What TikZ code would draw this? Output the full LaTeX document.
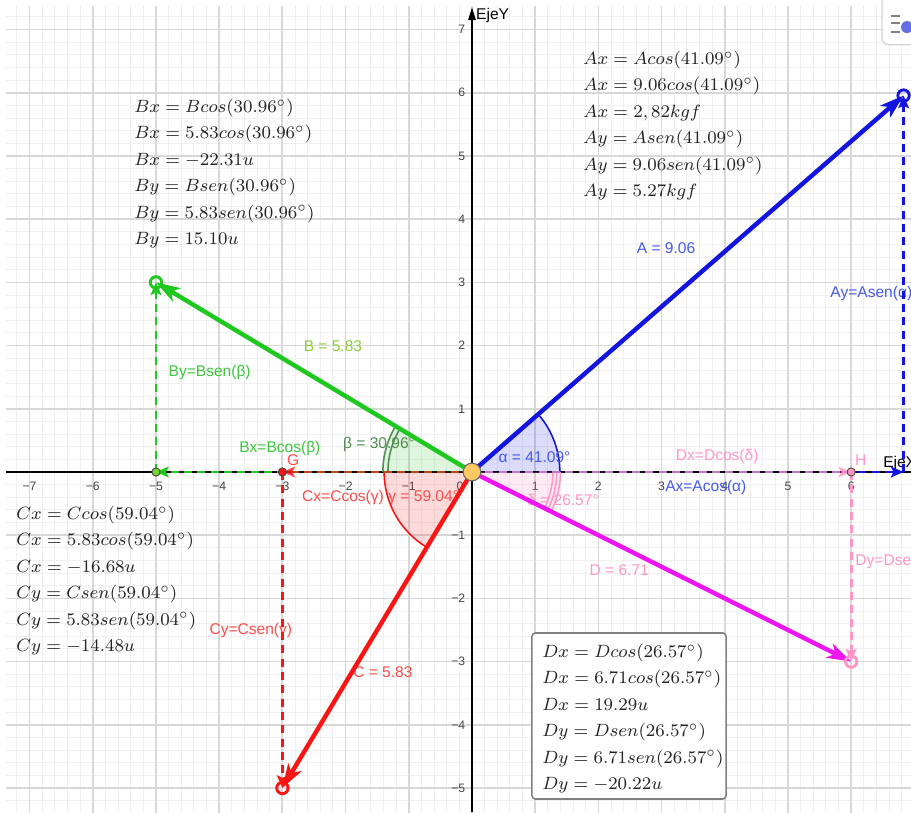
\documentclass[tikz,border=0pt]{standalone}
\usepackage{fontspec}
\newfontfamily\lab{Liberation Sans}
\usetikzlibrary{arrows.meta}
\definecolor{gmajor}{RGB}{216,216,216}
\definecolor{gminor}{RGB}{240,240,240}
\definecolor{vA}{RGB}{20,20,225}
\definecolor{vB}{RGB}{30,200,30}
\definecolor{vC}{RGB}{250,20,20}
\definecolor{vD}{RGB}{240,20,240}
\definecolor{pD}{RGB}{255,150,200}
\definecolor{lA}{RGB}{70,90,240}
\definecolor{lB}{RGB}{60,200,60}
\definecolor{lBtwo}{RGB}{140,205,60}
\definecolor{lBeta}{RGB}{80,140,80}
\definecolor{lC}{RGB}{255,75,75}
\definecolor{lD}{RGB}{255,150,200}
\definecolor{orig}{RGB}{255,200,100}
\definecolor{txt}{RGB}{35,35,35}
\definecolor{dotline}{RGB}{70,70,70}
\definecolor{iconc}{RGB}{100,110,230}
\begin{document}
\begin{tikzpicture}[x=1cm,y=1cm,
  lbl/.style={font=\lab\fontsize{7}{8}\selectfont, inner sep=0pt},
  tick/.style={font=\lab\fontsize{5.5}{6}\selectfont, text=dotline, inner sep=0pt},
  mathblk/.style={anchor=north west, align=left, inner sep=0pt, text=txt, font=\fontsize{8.2}{11.9}\selectfont},
  vec/.style={line width=2pt, -{Stealth[length=0.38cm,width=0.24cm,inset=0.1cm]}},
  comp/.style={line width=1.2pt, dash pattern=on 3.6pt off 2.4pt, -{Stealth[length=0.2cm,width=0.17cm,inset=0.04cm]}},
  hollowpt/.style={circle, minimum size=0.18cm, inner sep=0pt, line width=1.3pt, fill=none},
  smalldot/.style={circle, minimum size=0.13cm, inner sep=0pt, draw=dotline, line width=0.4pt},
  sector/.style={fill opacity=0.15},
  anglearc/.style={line width=0.7pt}
]
% page
\fill[white] (-7.468,-5.380) rectangle (6.946,7.468);
\useasboundingbox (-7.468,-5.380) rectangle (6.946,7.468);
% grid
\begin{scope}
\clip (-7.373,-5.380) rectangle (6.946,7.358);
\draw[gminor, line width=0.45pt, step=0.2] (-7.6,-5.6) grid (7.2,7.6);
\draw[gmajor, line width=0.8pt, step=1] (-8,-6) grid (7,8);
\end{scope}
% named coordinates
\coordinate (O) at (0,0);
\coordinate (A) at (6.829,5.956);
\coordinate (B) at (-5,3);
\coordinate (C) at (-3,-5);
\coordinate (D) at (6,-3);
\coordinate (Ax) at (6.829,0);
\coordinate (Bx) at (-5,0);
\coordinate (Cx) at (-3,0);
\coordinate (Dx) at (6,0);
\coordinate (xl) at (-7.373,0);
\coordinate (xr) at (6.946,0);
\coordinate (yb) at (0,-5.38);
\coordinate (yt) at (0,7.35);
% axes
\draw[black, line width=0.6pt] (xl) -- (xr);
\draw[black, line width=0.6pt, -{Triangle[length=0.2cm,width=0.12cm]}] (yb) -- (yt);
% tick labels
\foreach \v/\t in {-7/−7,-6/−6,-5/−5,-4/−4,-3/−3,-2/−2,-1/−1,1/1,2/2,3/3,4/4,5/5,6/6}
  \node[tick] (xt\v) at (\v,-0.23) {\t};
\node[tick] (xt0) at (-0.19,-0.23) {0};
\foreach \v/\t in {7/7,6/6,5/5,4/4,3/3,2/2,1/1,-1/−1,-2/−2,-3/−3,-4/−4,-5/−5}
  \node[tick, anchor=east] (yt\v) at (-0.1,\v) {\t};
% angle sectors
\fill[vA, sector] (O) -- (0:1.39) arc[start angle=0, end angle=41.09, radius=1.39] -- cycle;
\draw[vA, anglearc] (0:1.39) arc[start angle=0, end angle=41.09, radius=1.39];
\fill[vB, sector] (O) -- (149.04:1.41) arc[start angle=149.04, end angle=180, radius=1.41] -- cycle;
\draw[lBeta, anglearc] (149.04:1.41) arc[start angle=149.04, end angle=180, radius=1.41];
\draw[lBeta, anglearc] (149.04:1.33) arc[start angle=149.04, end angle=180, radius=1.33];
\fill[vC, sector] (O) -- (180:1.39) arc[start angle=180, end angle=239.04, radius=1.39] -- cycle;
\draw[vC, anglearc] (180:1.39) arc[start angle=180, end angle=239.04, radius=1.39];
\fill[pD, fill opacity=0.2] (O) -- (-26.57:1.40) arc[start angle=-26.57, end angle=0, radius=1.40] -- cycle;
\foreach \r in {1.40,1.34,1.28}
  \draw[pD, anglearc] (-26.57:\r) arc[start angle=-26.57, end angle=0, radius=\r];
% labels
\node[lbl, text=lA] (labA) at (3.07,3.54) {A = 9.06};
\node[lbl, text=lA, anchor=west] (labAy) at (5.665,2.83) {Ay=Asen(α)};
\node[lbl, text=lBtwo] (labB) at (-2.2,1.99) {B = 5.83};
\node[lbl, text=lB] (labBy) at (-4.15,1.57) {By=Bsen(β)};
\node[lbl, text=lB] (labBx) at (-3.04,0.38) {Bx=Bcos(β)};
\node[lbl, text=lBeta] (labbeta) at (-1.47,0.43) {β = 30.96°};
\node[lbl, text=lC] (labG) at (-2.83,0.19) {G};
\node[lbl, text=lC] (labCx) at (-2.04,-0.40) {Cx=Ccos(γ)};
\node[lbl, text=lC, anchor=west] (labgamma) at (-1.33,-0.40) {γ = 59.04°};
\node[lbl, text=lC] (labCy) at (-3.50,-2.50) {Cy=Csen(γ)};
\node[lbl, text=lC] (labC) at (-1.41,-3.16) {C = 5.83};
\node[lbl, text=lA] (labalpha) at (0.99,0.24) {α = 41.09°};
\node[lbl, text=lD] (labDx) at (3.88,0.25) {Dx=Dcos(δ)};
\node[lbl, text=lD] (labH) at (6.15,0.19) {H};
\node[lbl, text=lA] (labAx) at (3.70,-0.25) {Ax=Acos(α)};
\node[lbl, text=lD] (labdelta) at (1.44,-0.44) {δ = 26.57°};
\node[lbl, text=lD] (labD) at (2.33,-1.55) {D = 6.71};
\node[lbl, text=lD, anchor=west] (labDy) at (6.06,-1.42) {Dy=Dsen(δ)};
\node[lbl, text=black, anchor=west] (EjeY) at (0.06,7.23) {EjeY};
\node[lbl, text=black, anchor=west] (EjeX) at (6.50,0.14) {EjeX};
% components
\draw[comp, vA] (O) -- (Ax);
\draw[comp, vA] (Ax) -- (A);
\draw[comp, pD, opacity=0.75] (O) -- (Dx);
\draw[comp, pD] (Dx) -- (D);
\draw[comp, vB] (O) -- (Bx);
\draw[comp, vB] (Bx) -- (B);
\draw[comp, vC, opacity=0.7] (O) -- (Cx);
\draw[comp, vC] (Cx) -- (C);
% vectors
\draw[vec, vA] (O) -- (A);
\draw[vec, vB] (O) -- (B);
\draw[vec, vC] (O) -- (C);
\draw[vec, vD] (O) -- (D);
% points
\node[hollowpt, draw=vA] (pA) at (A) {};
\node[hollowpt, draw=vB] (pB) at (B) {};
\node[hollowpt, draw=vC] (pC) at (C) {};
\node[hollowpt, draw=pD] (pD) at (D) {};
\node[smalldot, fill=lBtwo!80!green] (pBx) at (Bx) {};
\node[smalldot, fill=vC] (pG) at (Cx) {};
\node[smalldot, fill=pD] (pH) at (Dx) {};
\node[circle, minimum size=0.28cm, inner sep=0pt, fill=orig, draw=dotline!80, line width=0.5pt] (pO) at (O) {};
% formula blocks
\node[mathblk] (blkA) at (1.756,6.667) {$Ax = Acos(41.09^\circ)$\\ $Ax = 9.06cos(41.09^\circ)$\\ $Ax = 2,82kgf$\\ $Ay = Asen(41.09^\circ)$\\ $Ay = 9.06sen(41.09^\circ)$\\ $Ay = 5.27kgf$};
\node[mathblk] (blkB) at (-5.35,5.907) {$Bx = Bcos(30.96^\circ)$\\ $Bx = 5.83cos(30.96^\circ)$\\ $Bx = -22.31u$\\ $By = Bsen(30.96^\circ)$\\ $By = 5.83sen(30.96^\circ)$\\ $By = 15.10u$};
\node[mathblk] (blkC) at (-7.215,-0.532) {$Cx = Ccos(59.04^\circ)$\\ $Cx = 5.83cos(59.04^\circ)$\\ $Cx = -16.68u$\\ $Cy = Csen(59.04^\circ)$\\ $Cy = 5.83sen(59.04^\circ)$\\ $Cy = -14.48u$};
\draw[draw=gray, fill=white, line width=0.7pt, rounded corners=1.5pt] (0.949,-2.547) rectangle (4.02,-5.174);
\node[mathblk] (blkD) at (1.108,-2.715) {$Dx = Dcos(26.57^\circ)$\\ $Dx = 6.71cos(26.57^\circ)$\\ $Dx = 19.29u$\\ $Dy = Dsen(26.57^\circ)$\\ $Dy = 6.71sen(26.57^\circ)$\\ $Dy = -20.22u$};
% style-bar button
\draw[gray!35, fill=white, line width=0.5pt, rounded corners=3pt] (6.487,6.76) rectangle (7.3,7.6);
\foreach \yy in {7.215,7.104,6.962}
  \draw[gray, line width=0.8pt] (6.63,\yy) -- (6.77,\yy);
\fill[iconc] (6.883,7.04) circle[radius=0.095];
\end{tikzpicture}
\end{document}
